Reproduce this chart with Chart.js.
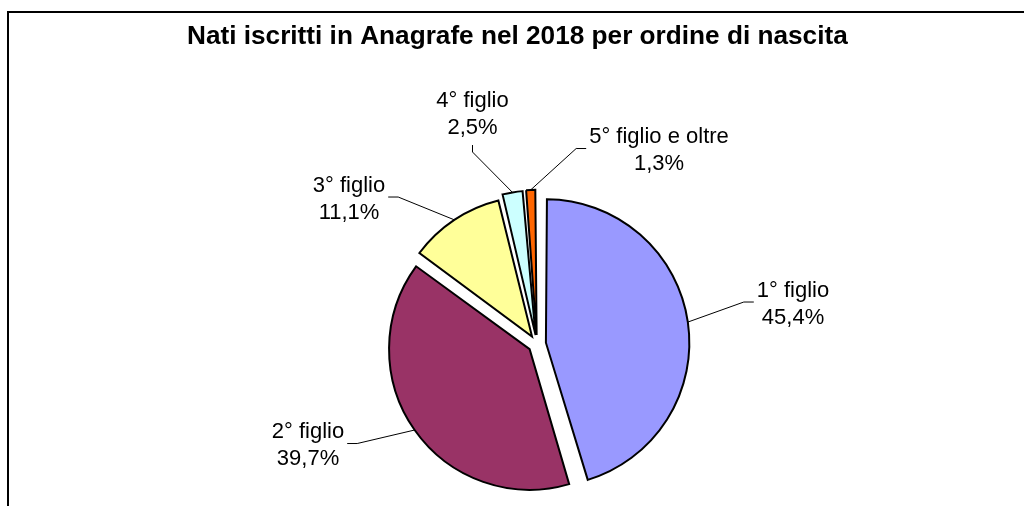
<!DOCTYPE html>
<html><head><meta charset="utf-8">
<script src="https://cdn.jsdelivr.net/npm/chart.js@4/dist/chart.umd.min.js"></script>
<style>
html,body{margin:0;padding:0;background:#fff;overflow:hidden;width:1024px;height:506px;}
#frame{position:absolute;left:7px;top:11px;width:1040px;height:520px;border-top:2px solid #000;border-left:2px solid #000;}
#c{position:absolute;left:0;top:0;}
</style></head><body>
<div id="frame"></div>
<canvas id="c" width="1024" height="506"></canvas>
<script>
const chartTitle = 'Nati iscritti in Anagrafe nel 2018 per ordine di nascita';
const categories = ['1° figlio', '2° figlio', '3° figlio', '4° figlio', '5° figlio e oltre'];
const shares = [45.4, 39.7, 11.1, 2.5, 1.3];
const sliceColors = ['#9999FF', '#993366', '#FFFF99', '#CCFFFF', '#FF6600'];
// label centres, relative to the pie centre (layout, not data)
const labelOffsets = [[256, -42], [-229, 99.5], [-188, -147], [-64.5, -232], [122, -195.5]];

const fmtPct = v => v.toFixed(1).replace('.', ',') + '%';
const FONT = '"Liberation Sans", Arial, sans-serif';

const leaderLabels = {
  id: 'leaderLabels',
  afterDatasetsDraw(chart) {
    const ctx = chart.ctx;
    const meta = chart.getDatasetMeta(0);
    ctx.save();
    ctx.font = '22px ' + FONT;
    ctx.fillStyle = '#000';
    ctx.strokeStyle = '#000';
    ctx.lineWidth = 1;
    meta.data.forEach((arc, i) => {
      const p = arc.getProps(['x', 'y', 'startAngle', 'endAngle', 'outerRadius'], true);
      const circ = p.endAngle - p.startAngle;
      const mid = (p.startAngle + p.endAngle) / 2;
      const shift = (arc.options.offset || 0) / 4;
      const fix = 1 - Math.sin(Math.min(Math.PI, circ));
      const r = p.outerRadius + shift * fix + shift;
      const px = p.x + Math.cos(mid) * r, py = p.y + Math.sin(mid) * r;
      const cx = p.x + labelOffsets[i][0], cy = p.y + labelOffsets[i][1];
      const lines = [categories[i], fmtPct(shares[i])];
      const w = Math.max(...lines.map(l => ctx.measureText(l).width));
      const hw = w / 2, hh = 26;
      const dx = px - cx, dy = py - cy;
      let ax, ay, ex, ey;
      if (Math.abs(dy) / hh > Math.abs(dx) / hw) {
        const s = dy > 0 ? 1 : -1;
        ax = cx; ay = cy + s * 33; ex = cx; ey = ay + s * 7;
      } else {
        const s = dx > 0 ? 1 : -1;
        ax = cx + s * (hw + 3); ay = cy; ex = ax + s * 10; ey = cy;
      }
      ctx.beginPath();
      ctx.moveTo(px, py);
      ctx.lineTo(ex, ey);
      ctx.lineTo(ax, ay);
      ctx.stroke();
      ctx.textAlign = 'center';
      ctx.textBaseline = 'alphabetic';
      ctx.fillText(lines[0], cx, cy - 5.5);
      ctx.fillText(lines[1], cx, cy + 21.5);
    });
    ctx.restore();
  }
};

new Chart(document.getElementById('c'), {
  type: 'pie',
  data: {
    labels: categories,
    datasets: [{
      data: shares,
      backgroundColor: sliceColors,
      borderColor: '#000',
      borderWidth: 2,
      borderJoinStyle: 'miter',
      offset: 36,
      hoverOffset: 36,
      radius: 137
    }]
  },
  options: {
    responsive: false,
    animation: false,
    events: [],
    radius: 137,
    layout: { padding: { left: 187, right: 137, top: 21, bottom: 0 } },
    plugins: {
      legend: { display: false },
      tooltip: { enabled: false },
      title: {
        display: true,
        text: chartTitle,
        align: 'start',
        color: '#000',
        font: { family: FONT, size: 26.2, weight: 'bold', lineHeight: 1.2 },
        padding: { top: 0, bottom: 129.6 }
      }
    }
  },
  plugins: [leaderLabels]
});
</script>
</body></html>
